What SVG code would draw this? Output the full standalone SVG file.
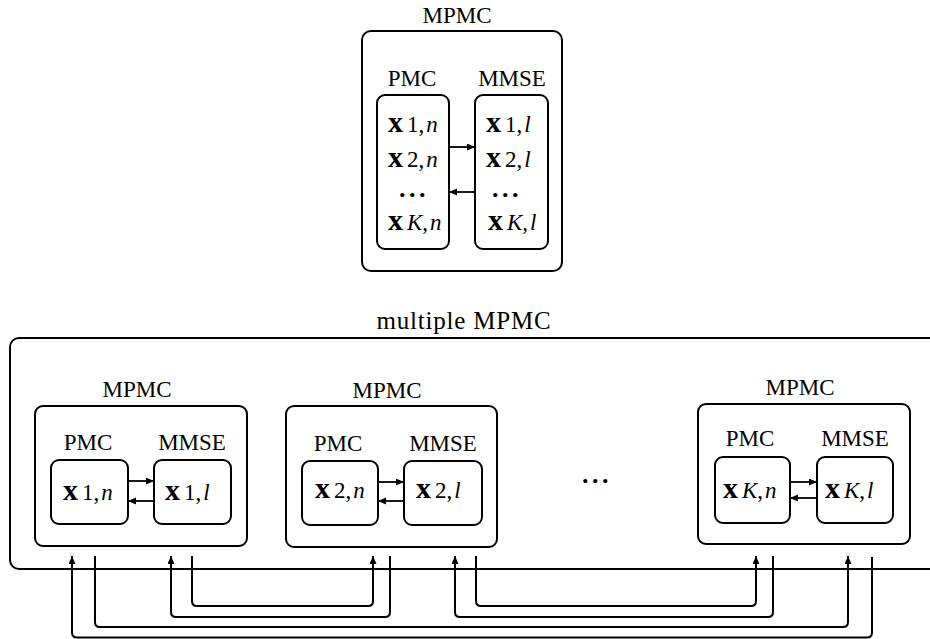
<svg xmlns="http://www.w3.org/2000/svg" width="930" height="639" viewBox="0 0 930 639">
  <defs>
    <marker id="ah" markerUnits="userSpaceOnUse" markerWidth="9" markerHeight="8" refX="8" refY="3.5" orient="auto">
      <path d="M0,0 L8,3.5 L0,7 z" fill="#000"/>
    </marker>
    <style>
      .box { fill: #fff; stroke: #000; stroke-width: 2; }
      .lbl { font-family: "Liberation Serif", "Times New Roman", serif; font-size: 23px; fill: #000; text-anchor: middle; }
      .title { font-size: 25px; letter-spacing: 0.8px; }
      .m { font-family: "Liberation Serif", "Times New Roman", serif; fill: #000; }
      .bx { font-weight: bold; font-size: 30px; }
      .sb { font-size: 23px; }
      .it { font-size: 23px; font-style: italic; }
      .dots { font-family: "Liberation Serif", "Times New Roman", serif; font-size: 26px; font-weight: bold; letter-spacing: 3.5px; fill: #000; text-anchor: middle; }
      .arr { fill: none; stroke: #000; stroke-width: 1.8; marker-end: url(#ah); }
      .wire { fill: none; stroke: #000; stroke-width: 2; }
    </style>
  </defs>
  <rect width="930" height="639" fill="#fff"/>

  <!-- single MPMC module -->
  <g id="mpmc-top">
    <text class="lbl" x="457" y="23">MPMC</text>
    <rect class="box" x="362" y="31" width="200" height="240" rx="9"/>
    <g id="mpmc-top-pmc">
      <text class="lbl" x="412" y="86">PMC</text>
      <rect class="box" x="377" y="95" width="72" height="154" rx="8"/>
      <text class="m" x="388" y="132"><tspan class="bx">x</tspan><tspan class="sb" dx="4">1</tspan><tspan class="sb">,</tspan><tspan class="it" dx="2">n</tspan></text>
      <text class="m" x="388" y="167"><tspan class="bx">x</tspan><tspan class="sb" dx="4">2</tspan><tspan class="sb">,</tspan><tspan class="it" dx="2">n</tspan></text>
      <text class="dots" x="414" y="197">...</text>
      <text class="m" x="388" y="230"><tspan class="bx">x</tspan><tspan class="it" dx="4">K</tspan><tspan class="sb">,</tspan><tspan class="it" dx="2">n</tspan></text>
    </g>
    <g id="mpmc-top-mmse">
      <text class="lbl" x="512" y="86">MMSE</text>
      <rect class="box" x="475" y="95" width="73" height="154" rx="8"/>
      <text class="m" x="486" y="132"><tspan class="bx">x</tspan><tspan class="sb" dx="4">1</tspan><tspan class="sb">,</tspan><tspan class="it" dx="2">l</tspan></text>
      <text class="m" x="486" y="167"><tspan class="bx">x</tspan><tspan class="sb" dx="4">2</tspan><tspan class="sb">,</tspan><tspan class="it" dx="2">l</tspan></text>
      <text class="dots" x="507" y="197">...</text>
      <text class="m" x="488" y="230"><tspan class="bx">x</tspan><tspan class="it" dx="4">K</tspan><tspan class="sb">,</tspan><tspan class="it" dx="2">l</tspan></text>
    </g>
  </g>

  <!-- container for the chain of modules -->
  <g id="multi">
    <text class="lbl title" x="464" y="329">multiple MPMC</text>
    <rect class="box" x="10" y="338" width="940" height="231" rx="9"/>
  </g>

  <g id="mpmc-1">
    <text class="lbl" x="137" y="397">MPMC</text>
    <rect class="box" x="35" y="406" width="212" height="140" rx="8"/>
    <g id="mpmc-1-pmc">
      <text class="lbl" x="88" y="450">PMC</text>
      <rect class="box" x="51" y="460" width="77" height="64" rx="8"/>
      <text class="m" x="63" y="500"><tspan class="bx">x</tspan><tspan class="sb" dx="4">1</tspan><tspan class="sb">,</tspan><tspan class="it" dx="2">n</tspan></text>
    </g>
    <g id="mpmc-1-mmse">
      <text class="lbl" x="192" y="450">MMSE</text>
      <rect class="box" x="154" y="460" width="77" height="64" rx="8"/>
      <text class="m" x="165" y="500"><tspan class="bx">x</tspan><tspan class="sb" dx="4">1</tspan><tspan class="sb">,</tspan><tspan class="it" dx="2">l</tspan></text>
    </g>
  </g>

  <g id="mpmc-2">
    <text class="lbl" x="387" y="398">MPMC</text>
    <rect class="box" x="286" y="406" width="211" height="141" rx="8"/>
    <g id="mpmc-2-pmc">
      <text class="lbl" x="338" y="451">PMC</text>
      <rect class="box" x="302" y="461" width="76" height="64" rx="8"/>
      <text class="m" x="315" y="498"><tspan class="bx">x</tspan><tspan class="sb" dx="4">2</tspan><tspan class="sb">,</tspan><tspan class="it" dx="2">n</tspan></text>
    </g>
    <g id="mpmc-2-mmse">
      <text class="lbl" x="443" y="451">MMSE</text>
      <rect class="box" x="404" y="461" width="78" height="64" rx="8"/>
      <text class="m" x="416" y="498"><tspan class="bx">x</tspan><tspan class="sb" dx="4">2</tspan><tspan class="sb">,</tspan><tspan class="it" dx="2">l</tspan></text>
    </g>
  </g>

  <text class="dots" x="597" y="483">...</text>

  <g id="mpmc-k">
    <text class="lbl" x="800" y="395">MPMC</text>
    <rect class="box" x="698" y="404" width="212" height="140" rx="8"/>
    <g id="mpmc-k-pmc">
      <text class="lbl" x="750" y="446">PMC</text>
      <rect class="box" x="715" y="457" width="75" height="66" rx="8"/>
      <text class="m" x="723" y="498"><tspan class="bx">x</tspan><tspan class="it" dx="4">K</tspan><tspan class="sb">,</tspan><tspan class="it" dx="2">n</tspan></text>
    </g>
    <g id="mpmc-k-mmse">
      <text class="lbl" x="855" y="446">MMSE</text>
      <rect class="box" x="817" y="457" width="76" height="66" rx="8"/>
      <text class="m" x="825" y="498"><tspan class="bx">x</tspan><tspan class="it" dx="4">K</tspan><tspan class="sb">,</tspan><tspan class="it" dx="2">l</tspan></text>
    </g>
  </g>

  <g id="connectors">
    <!-- PMC <-> MMSE exchange inside each module -->
    <path class="arr" d="M449,147 H475"/>
    <path class="arr" d="M475,192 H449"/>
    <path class="arr" d="M128,481 H154"/>
    <path class="arr" d="M154,501 H128"/>
    <path class="arr" d="M378,482 H404"/>
    <path class="arr" d="M404,501 H378"/>
    <path class="arr" d="M790,482 H817"/>
    <path class="arr" d="M817,498 H790"/>
    <!-- links between modules -->
    <path class="wire arr" d="M192,556 V601 Q192,606 197,606 H368 Q373,606 373,601 V556"/>
    <path class="wire arr" d="M390,556 V612 Q390,617 385,617 H176 Q171,617 171,612 V556"/>
    <path class="wire arr" d="M476,556 V601 Q476,606 481,606 H751 Q756,606 756,601 V556"/>
    <path class="wire arr" d="M773,556 V612 Q773,617 768,617 H460 Q455,617 455,612 V556"/>
    <path class="wire arr" d="M95,556 V622 Q95,627 100,627 H843 Q848,627 848,622 V556"/>
    <path class="wire arr" d="M872,557 V632.5 Q872,637.5 867,637.5 H77 Q72,637.5 72,632.5 V556"/>
  </g>
</svg>
